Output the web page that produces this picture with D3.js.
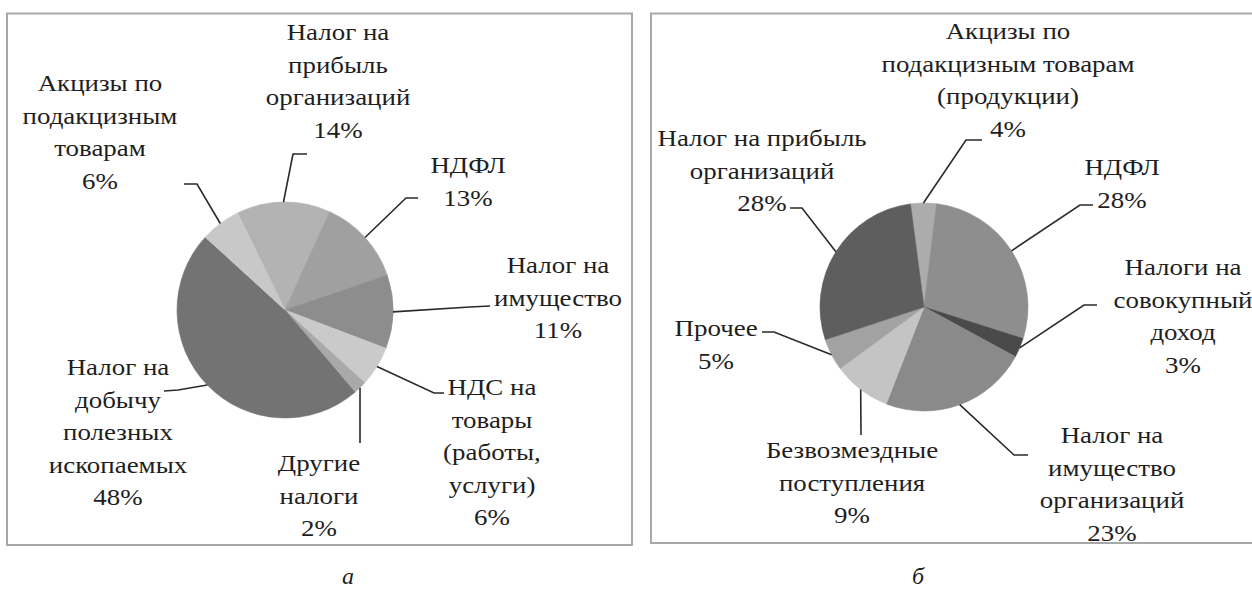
<!DOCTYPE html>
<html>
<head>
<script src="https://cdn.jsdelivr.net/npm/d3@7"></script>
</head>
<body style="margin:0">
<svg id="chart" width="1252" height="591"></svg>
<script>
// ---------- DATA ----------
const leftCategories = [
  "Налог на прибыль организаций",
  "НДФЛ",
  "Налог на имущество",
  "НДС на товары (работы, услуги)",
  "Другие налоги",
  "Налог на добычу полезных ископаемых",
  "Акцизы по подакцизным товарам"
];
const leftValues = [14, 13, 11, 6, 2, 48, 6];
const leftLabelLines = [
  ["Налог на", "прибыль", "организаций"],
  ["НДФЛ"],
  ["Налог на", "имущество"],
  ["НДС на", "товары", "(работы,", "услуги)"],
  ["Другие", "налоги"],
  ["Налог на", "добычу", "полезных", "ископаемых"],
  ["Акцизы по", "подакцизным", "товарам"]
];

const rightCategories = [
  "Акцизы по подакцизным товарам (продукции)",
  "НДФЛ",
  "Налоги на совокупный доход",
  "Налог на имущество организаций",
  "Безвозмездные поступления",
  "Прочее",
  "Налог на прибыль организаций"
];
const rightValues = [4, 28, 3, 23, 9, 5, 28];
const rightLabelLines = [
  ["Акцизы по", "подакцизным товарам", "(продукции)"],
  ["НДФЛ"],
  ["Налоги на", "совокупный", "доход"],
  ["Налог на", "имущество", "организаций"],
  ["Безвозмездные", "поступления"],
  ["Прочее"],
  ["Налог на прибыль", "организаций"]
];

const panelCaptions = ["а", "б"];

// ---------- STYLE / LAYOUT ----------
const FONT = "Liberation Serif";
const FONT_SIZE = 23;
const STRETCH = 1.17;
const leftColors  = ["#b3b3b3", "#a0a0a0", "#8d8d8d", "#cacaca", "#a9a9a9", "#737373", "#c8c8c8"];
const rightColors = ["#acacac", "#8e8e8e", "#4a4a4a", "#8a8a8a", "#c4c4c4", "#a2a2a2", "#5e5e5e"];

// label layout: centre x, first line y, leader elbow & end points
const leftLayout = [
  { x: 338, y: 32,  pts: [[293, 154], [307, 154]] },
  { x: 468, y: 165, pts: [[406, 198], [418, 198]] },
  { x: 558, y: 265, pts: [[470, 307], [490, 306]] },
  { x: 492, y: 387, pts: [[434, 393], [444, 393]] },
  { x: 319, y: 463, pts: [[360, 443]] },
  { x: 118, y: 367, pts: [[178, 390], [164, 391]] },
  { x: 100, y: 83,  pts: [[197, 184], [184, 184]] }
];
const rightLayout = [
  { x: 1008, y: 31,  pts: [[966, 140], [982, 140]] },
  { x: 1122, y: 167, pts: [[1080, 205], [1093, 205]] },
  { x: 1183, y: 267, pts: [[1084, 305], [1097, 305]] },
  { x: 1112, y: 435, pts: [[1014, 455], [1028, 455]] },
  { x: 852,  y: 450, pts: [[861, 435]] },
  { x: 716,  y: 328, pts: [[774, 332], [762, 332]] },
  { x: 762,  y: 138, pts: [[802, 208], [790, 208]] }
];

const lineH = 32.5;
const svg = d3.select("#chart");

function addCenteredText(parent, s, cx, y, size, italic, stretch) {
  const t = parent.append("text").attr("x", cx).attr("y", y)
    .attr("font-size", size).attr("font-family", FONT)
    .style("font-family", FONT, "important")
    .style("font-size", size + "px", "important")
    .style("fill", "#1e1e1e", "important");
  if (italic) t.style("font-style", "italic", "important");
  t.text(s);
  const w = t.node().getComputedTextLength() * stretch;
  t.attr("x", (cx - w / 2).toFixed(1));
  if (stretch !== 1) t.attr("textLength", w.toFixed(1)).attr("lengthAdjust", "spacingAndGlyphs");
  return t;
}

// panels
const frame = svg.append("g");
frame.append("rect").attr("x", 7).attr("y", 13.5).attr("width", 625).attr("height", 531.5)
  .attr("fill", "#fff").attr("stroke", "#a8a8a8").attr("stroke-width", 2);
frame.append("rect").attr("x", 651).attr("y", 13.5).attr("width", 640).attr("height", 529.5)
  .attr("fill", "#fff").attr("stroke", "#a8a8a8").attr("stroke-width", 2);

function drawPie(cfg) {
  const g = svg.append("g");
  const deg = Math.PI / 180;
  const pie = d3.pie().sort(null).value(d => d.v)
    .startAngle(cfg.start * deg).endAngle(cfg.start * deg + 2 * Math.PI);
  const data = cfg.values.map((v, i) => ({ v, i }));
  const arcs = pie(data);
  const arc = d3.arc().innerRadius(0).outerRadius(cfg.r);
  const color = d3.scaleOrdinal().domain(d3.range(cfg.values.length)).range(cfg.colors);

  g.attr("transform", `translate(${cfg.cx},${cfg.cy})`)
    .selectAll("path").data(arcs).join("path")
    .attr("d", arc)
    .attr("fill", d => color(d.data.i))
    .attr("stroke", d => color(d.data.i))
    .attr("stroke-width", 0.6);

  // leader lines
  const line = d3.line();
  arcs.forEach((d, i) => {
    const a = (d.startAngle + d.endAngle) / 2;
    const sx = cfg.cx + cfg.r * Math.sin(a);
    const sy = cfg.cy - cfg.r * Math.cos(a);
    const pts = [[sx, sy]].concat(cfg.layout[i].pts);
    svg.append("path").attr("d", line(pts))
      .attr("fill", "none").attr("stroke", "#2a2a2a").attr("stroke-width", 1.6);
  });

  // labels
  arcs.forEach((d, i) => {
    const L = cfg.layout[i];
    const lines = cfg.lines[i].concat([d.data.v + "%"]);
    lines.forEach((s, k) =>
      addCenteredText(svg, s, L.x, L.y + k * lineH + 8, FONT_SIZE, false, STRETCH));
  });
}

drawPie({ cx: 285, cy: 310, r: 108, start: -26, values: leftValues, colors: leftColors,
          lines: leftLabelLines, layout: leftLayout });
drawPie({ cx: 924, cy: 307, r: 104, start: -7.5, values: rightValues, colors: rightColors,
          lines: rightLabelLines, layout: rightLayout });

// captions
const capPos = [[348, 584], [918, 584]];
panelCaptions.forEach((c, i) => addCenteredText(svg, c, capPos[i][0], capPos[i][1], 24, true, 1));
</script>
</body>
</html>
